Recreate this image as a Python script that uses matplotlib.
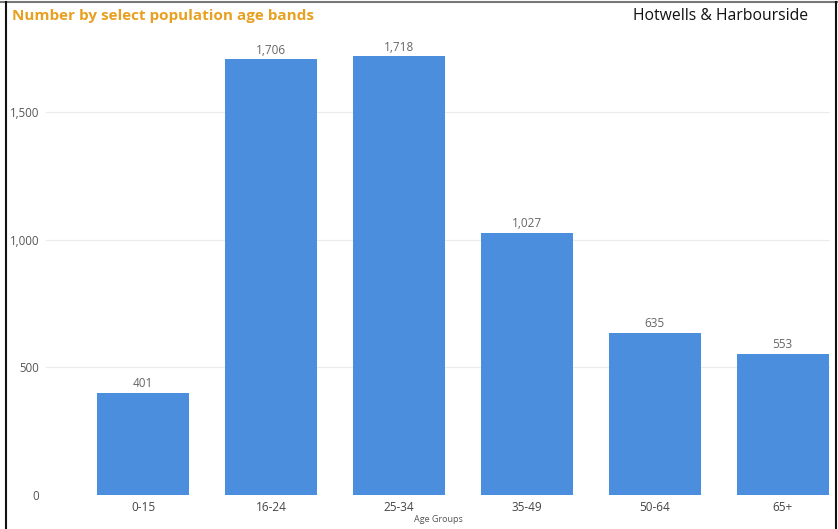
import matplotlib
matplotlib.use("Agg")
import matplotlib.pyplot as plt
from matplotlib.lines import Line2D

categories = ["0-15", "16-24", "25-34", "35-49", "50-64", "65+"]
values = [401, 1706, 1718, 1027, 635, 553]
yticks = [0, 500, 1000, 1500]

plt.rcParams['font.family'] = ['Open Sans', 'DejaVu Sans']

W, H = 838, 529
fig = plt.figure(figsize=(W / 100, H / 100), dpi=100)
fig.patch.set_facecolor("white")

# axes placement in pixels
left, right, top, bottom = 46, 830, 40, 495
ax = fig.add_axes([left / W, 1 - bottom / H, (right - left) / W, (bottom - top) / H])

x = list(range(len(categories)))
ax.bar(x, values, width=0.72, color="#4A8EDD", zorder=3)
for xi, v in zip(x, values):
    ax.text(xi, v + 10, f"{v:,}", ha="center", va="bottom", fontsize=8.5, color="#666666")

ax.set_xlim(-0.76, 5.37)
ax.set_ylim(0, 1781)
ax.set_yticks(yticks)
ax.set_yticklabels([f"{t:,}" for t in yticks], fontsize=8.3, color="#555555")
ax.set_xticks(x)
ax.set_xticklabels(categories, fontsize=8.5, color="#444444")
ax.tick_params(axis="x", length=0, pad=4)
ax.tick_params(axis="y", length=0, pad=5)
ax.grid(axis="y", color="#EBEBEB", linewidth=0.8, zorder=0)
for s in ax.spines.values():
    s.set_visible(False)
ax.set_xlabel("Age Groups", fontsize=6.5, color="#555555", labelpad=1)

# titles
fig.text(12 / W, 1 - 16 / H, "Number by select population age bands", fontsize=11,
         fontweight="bold", color="#E8A020", ha="left", va="center")
fig.text(808 / W, 1 - 16 / H, "Hotwells & Harbourside", fontsize=11.3,
         color="#111111", ha="right", va="center")

# frame lines
fig.add_artist(Line2D([0, 1], [1 - 1.5 / H, 1 - 1.5 / H], transform=fig.transFigure,
                      color="#777777", linewidth=1.5))
fig.add_artist(Line2D([5.5 / W, 5.5 / W], [0, 1 - 1.5 / H], transform=fig.transFigure,
                      color="#111111", linewidth=1.5))
fig.add_artist(Line2D([836 / W, 836 / W], [0, 1 - 1.5 / H], transform=fig.transFigure,
                      color="#111111", linewidth=1.5))

fig.savefig("out.png", dpi=100)
